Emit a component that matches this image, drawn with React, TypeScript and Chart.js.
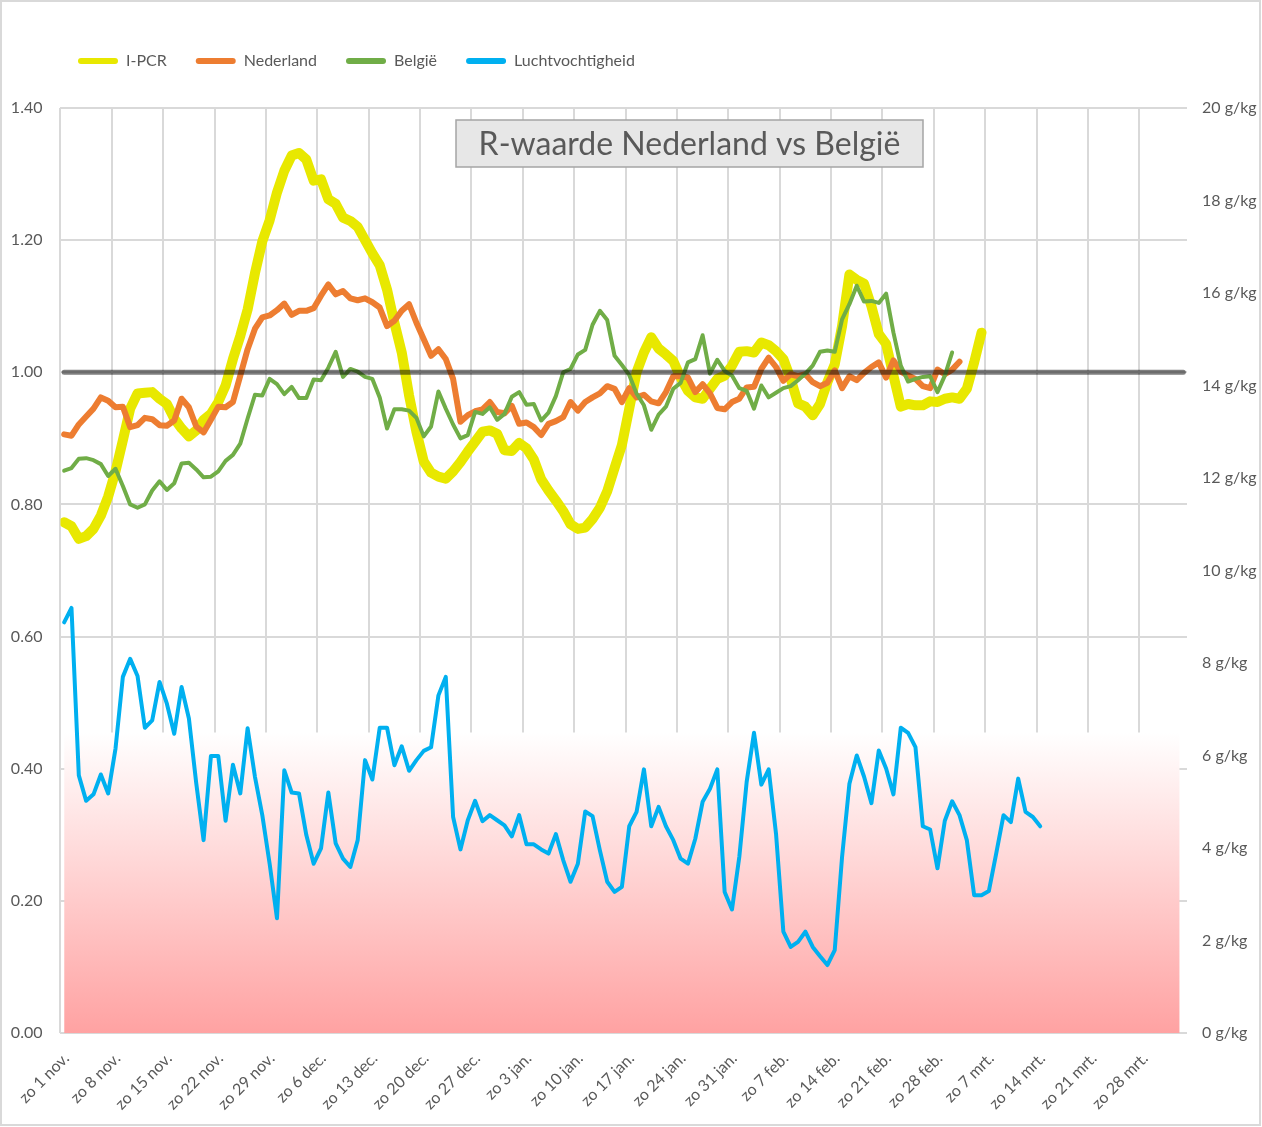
import { useEffect, useRef } from "react";
import { Chart, registerables } from "chart.js";

Chart.register(...registerables);

// ---------- data ----------
const weekLabels = [
  "zo 1 nov.", "zo 8 nov.", "zo 15 nov.", "zo 22 nov.", "zo 29 nov.", "zo 6 dec.",
  "zo 13 dec.", "zo 20 dec.", "zo 27 dec.", "zo 3 jan.", "zo 10 jan.", "zo 17 jan.",
  "zo 24 jan.", "zo 31 jan.", "zo 7 feb.", "zo 14 feb.", "zo 21 feb.", "zo 28 feb.",
  "zo 7 mrt.", "zo 14 mrt.", "zo 21 mrt.", "zo 28 mrt.",
];

// days on the date axis (1 nov. .. 2 apr.)
const axisDays = 153.5;

// daily values, starting 1 nov.
const iPcr = [
  0.773, 0.767, 0.748, 0.752, 0.763, 0.783, 0.812, 0.850, 0.897, 0.945,
  0.968, 0.969, 0.970, 0.960, 0.952, 0.930, 0.915, 0.903, 0.912, 0.928,
  0.937, 0.955, 0.980, 1.020, 1.055, 1.095, 1.150, 1.198, 1.230, 1.272,
  1.305, 1.328, 1.332, 1.322, 1.290, 1.292, 1.262, 1.255, 1.234, 1.229,
  1.220, 1.200, 1.180, 1.162, 1.125, 1.075, 1.030, 0.965, 0.910, 0.865,
  0.848, 0.842, 0.839, 0.850, 0.864, 0.880, 0.895, 0.910, 0.912, 0.907,
  0.882, 0.881, 0.893, 0.885, 0.868, 0.838, 0.821, 0.806, 0.790, 0.770,
  0.763, 0.765, 0.778, 0.795, 0.820, 0.855, 0.890, 0.945, 1.000, 1.030,
  1.053, 1.036, 1.027, 1.017, 0.992, 0.972, 0.962, 0.960, 0.975, 0.990,
  0.995, 1.010, 1.031, 1.032, 1.030, 1.045, 1.041, 1.032, 1.020, 0.990,
  0.953, 0.948, 0.935, 0.952, 0.985, 1.012, 1.070, 1.148, 1.140, 1.134,
  1.100, 1.058, 1.043, 0.995, 0.948, 0.952, 0.950, 0.950, 0.956, 0.955,
  0.960, 0.962, 0.960, 0.975, 1.015, 1.060,
];

const nederland = [
  0.906, 0.904, 0.921, 0.933, 0.945, 0.962, 0.957, 0.947, 0.948, 0.917,
  0.920, 0.931, 0.929, 0.920, 0.919, 0.927, 0.960, 0.947, 0.918, 0.909,
  0.928, 0.948, 0.947, 0.955, 0.995, 1.035, 1.066, 1.083, 1.086, 1.094,
  1.104, 1.087, 1.093, 1.093, 1.097, 1.116, 1.133, 1.118, 1.123, 1.112,
  1.109, 1.112, 1.106, 1.098, 1.070, 1.078, 1.093, 1.103, 1.075, 1.050,
  1.025, 1.035, 1.020, 0.990, 0.925, 0.935, 0.941, 0.944, 0.955, 0.940,
  0.938, 0.949, 0.922, 0.924, 0.917, 0.905, 0.922, 0.926, 0.932, 0.955,
  0.942, 0.955, 0.962, 0.968, 0.979, 0.975, 0.955, 0.976, 0.962, 0.966,
  0.956, 0.953, 0.970, 0.994, 0.994, 0.992, 0.970, 0.982, 0.968, 0.946,
  0.944, 0.955, 0.960, 0.977, 0.978, 1.005, 1.022, 1.008, 0.987, 0.997,
  0.994, 0.997, 0.985, 0.979, 0.984, 1.003, 0.976, 0.994, 0.988, 0.999,
  1.008, 1.015, 0.992, 1.018, 1.001, 0.995, 0.990, 0.979, 0.976, 1.004,
  0.997, 1.004, 1.016,
];

const belgie = [
  0.851, 0.855, 0.869, 0.870, 0.867, 0.861, 0.843, 0.854, 0.828, 0.800,
  0.795, 0.800, 0.821, 0.835, 0.822, 0.832, 0.862, 0.863, 0.853, 0.841,
  0.842, 0.850, 0.866, 0.875, 0.892, 0.930, 0.966, 0.965, 0.990, 0.982,
  0.967, 0.978, 0.961, 0.961, 0.989, 0.988, 1.007, 1.031, 0.993, 1.005,
  1.001, 0.993, 0.990, 0.962, 0.915, 0.944, 0.944, 0.942, 0.931, 0.903,
  0.918, 0.971, 0.945, 0.921, 0.900, 0.905, 0.940, 0.937, 0.947, 0.928,
  0.937, 0.963, 0.970, 0.951, 0.952, 0.927, 0.939, 0.964, 1.000, 1.005,
  1.027, 1.034, 1.072, 1.093, 1.079, 1.025, 1.011, 0.996, 0.968, 0.950,
  0.913, 0.936, 0.948, 0.975, 0.984, 1.015, 1.020, 1.056, 0.998, 1.019,
  1.002, 0.995, 0.976, 0.972, 0.945, 0.980, 0.962, 0.969, 0.976, 0.979,
  0.988, 0.998, 1.010, 1.031, 1.033, 1.031, 1.080, 1.103, 1.131, 1.107,
  1.108, 1.105, 1.119, 1.060, 1.010, 0.986, 0.990, 0.993, 0.994, 0.970,
  0.995, 1.030,
];

// g/kg
const luchtvochtigheid = [
  8.88, 9.19, 5.57, 5.02, 5.16, 5.59, 5.18, 6.15, 7.70, 8.09,
  7.72, 6.60, 6.76, 7.59, 7.12, 6.47, 7.48, 6.80, 5.40, 4.17,
  5.99, 5.99, 4.59, 5.80, 5.18, 6.59, 5.54, 4.71, 3.66, 2.48,
  5.68, 5.20, 5.18, 4.28, 3.66, 3.99, 5.20, 4.10, 3.77, 3.59,
  4.17, 5.90, 5.48, 6.60, 6.60, 5.79, 6.20, 5.67, 5.90, 6.10,
  6.18, 7.30, 7.70, 4.67, 3.97, 4.60, 5.02, 4.58, 4.71, 4.60,
  4.49, 4.25, 4.71, 4.08, 4.08, 3.97, 3.88, 4.30, 3.74, 3.27,
  3.66, 4.79, 4.69, 3.95, 3.27, 3.05, 3.16, 4.47, 4.78, 5.70,
  4.47, 4.89, 4.47, 4.17, 3.77, 3.66, 4.20, 5.00, 5.28, 5.70,
  3.05, 2.67, 3.81, 5.43, 6.49, 5.37, 5.70, 4.31, 2.19, 1.86,
  1.97, 2.19, 1.86, 1.66, 1.47, 1.79, 3.81, 5.39, 6.00, 5.54,
  4.97, 6.11, 5.72, 5.16, 6.60, 6.49, 6.18, 4.47, 4.40, 3.56,
  4.59, 5.01, 4.71, 4.17, 2.98, 2.98, 3.07, 3.88, 4.71, 4.56,
  5.50, 4.78, 4.67, 4.47,
];

const rReference = 1.0;
const humidityZoneTop = 6.5; // g/kg
const chartTitle = "R-waarde Nederland vs België";

const legendEntries = [
  { text: "I-PCR", color: "#e8e800" },
  { text: "Nederland", color: "#ed7d31" },
  { text: "België", color: "#70ad47" },
  { text: "Luchtvochtigheid", color: "#00b0f0" },
];

// ---------- helpers ----------
const toPoints = (arr: number[]) => arr.map((y, i) => ({ x: i + 0.5, y }));
const TEXT = "#595959";
const GRID = "#d9d9d9";

const legendPlacement = {
  id: "legendPlacement",
  beforeInit(chart: any) {
    const lg = chart.legend;
    if (!lg) return;
    const fit = lg.fit.bind(lg);
    lg.fit = () => {
      fit();
      lg.height = 108;
    };
  },
  afterLayout(chart: any) {
    const lg = chart.legend;
    if (!lg) return;
    lg.left = 49;
    lg.top = 24;
  },
};

const titleBox = {
  id: "titleBox",
  afterDatasetsDraw(chart: any) {
    const { ctx } = chart;
    ctx.save();
    const left = 456, top = 120, w = 467, h = 47;
    ctx.fillStyle = "#e7e7e7";
    ctx.fillRect(left, top, w, h);
    ctx.strokeStyle = "#a5a5a5";
    ctx.lineWidth = 1.5;
    ctx.strokeRect(left, top, w, h);
    ctx.fillStyle = TEXT;
    ctx.font = "32px Lato";
    ctx.textAlign = "center";
    ctx.textBaseline = "middle";
    ctx.fillText(chartTitle, left + w / 2, top + h / 2 + 1);
    ctx.restore();
  },
};

const outerBorder = {
  id: "outerBorder",
  afterDraw(chart: any) {
    const { ctx, width, height } = chart;
    ctx.save();
    ctx.strokeStyle = GRID;
    ctx.lineWidth = 2;
    ctx.strokeRect(1, 1, width - 3, height - 3);
    ctx.restore();
  },
};

export default function App() {
  const ref = useRef<HTMLCanvasElement | null>(null);

  useEffect(() => {
    if (!ref.current) return;
    Chart.defaults.font.family = "Lato";
    Chart.defaults.font.size = 16;
    Chart.defaults.color = TEXT;

    const bandGradient = (ctx: any) => {
      const chart = ctx.chart;
      const { chartArea, scales } = chart;
      if (!chartArea) return "rgba(255,200,200,1)";
      const top = scales.y1.getPixelForValue(humidityZoneTop);
      const bottom = scales.y1.getPixelForValue(0);
      const g = chart.ctx.createLinearGradient(0, top, 0, bottom);
      g.addColorStop(0, "rgb(255,255,255)");
      g.addColorStop(1, "rgb(255,162,162)");
      return g;
    };

    const lineCommon = {
      pointRadius: 0,
      pointHoverRadius: 0,
      tension: 0,
      borderJoinStyle: "round" as const,
      borderCapStyle: "round" as const,
      fill: false,
    };

    const chart = new Chart(ref.current, {
      type: "line",
      data: {
        datasets: [
          {
            ...lineCommon,
            label: "R = 1",
            data: [
              { x: 0.5, y: rReference },
              { x: axisDays - 0.5, y: rReference },
            ],
            borderColor: "rgba(0,0,0,0.5)",
            borderWidth: 5,
            yAxisID: "y",
            order: 0,
          },
          {
            ...lineCommon,
            label: "Luchtvochtigheid",
            data: toPoints(luchtvochtigheid),
            borderColor: "#00b0f0",
            borderWidth: 4,
            yAxisID: "y1",
            order: 1,
          },
          {
            ...lineCommon,
            label: "België",
            data: toPoints(belgie),
            borderColor: "#70ad47",
            borderWidth: 4,
            yAxisID: "y",
            order: 2,
          },
          {
            ...lineCommon,
            label: "Nederland",
            data: toPoints(nederland),
            borderColor: "#ed7d31",
            borderWidth: 6,
            yAxisID: "y",
            order: 3,
          },
          {
            ...lineCommon,
            label: "I-PCR",
            data: toPoints(iPcr),
            borderColor: "#e8e800",
            borderWidth: 10,
            yAxisID: "y",
            order: 4,
          },
          {
            label: "zone",
            data: [
              { x: 0.5, y: humidityZoneTop },
              { x: axisDays - 1, y: humidityZoneTop },
            ],
            pointRadius: 0,
            borderWidth: 0,
            borderColor: "rgba(0,0,0,0)",
            backgroundColor: bandGradient,
            fill: "origin",
            yAxisID: "y1",
            order: 5,
          },
        ] as any,
      },
      options: {
        responsive: false,
        maintainAspectRatio: false,
        animation: false,
        events: [],
        layout: { padding: 0 },
        plugins: {
          tooltip: { enabled: false },
          title: { display: false },
          legend: {
            display: true,
            position: "top",
            align: "start",
            labels: {
              boxWidth: 40,
              boxHeight: 6,
              padding: 29,
              color: TEXT,
              font: { size: 16, family: "Lato" },
              generateLabels: () =>
                legendEntries.map((e) => ({
                  text: e.text,
                  fillStyle: e.color,
                  strokeStyle: e.color,
                  lineWidth: 0,
                  hidden: false,
                  borderRadius: 3,
                  fontColor: TEXT,
                })) as any,
            },
          },
        },
        scales: {
          x: {
            type: "linear",
            min: 0,
            max: axisDays,
            afterBuildTicks: (scale: any) => {
              scale.ticks = weekLabels.map((_, i) => ({ value: i * 7 }));
            },
            afterFit: (scale: any) => {
              scale.height = 94;
            },
            ticks: {
              autoSkip: false,
              maxRotation: 45,
              minRotation: 45,
              padding: 16,
              labelOffset: 6,
              color: TEXT,
              font: { size: 16 },
              callback: (v: any) => weekLabels[Math.round(Number(v) / 7)] ?? "",
            },
            grid: { color: GRID, lineWidth: 2, drawTicks: false },
            border: { display: false },
          },
          y: {
            position: "left",
            min: 0,
            max: 1.4,
            afterFit: (scale: any) => {
              scale.width = 58;
            },
            ticks: {
              stepSize: 0.2,
              padding: 18,
              color: TEXT,
              font: { size: 16 },
              callback: (v: any) => Number(v).toFixed(2),
            },
            grid: { color: GRID, lineWidth: 2, drawTicks: false },
            border: { display: false },
          },
          y1: {
            position: "right",
            min: 0,
            max: 20,
            afterFit: (scale: any) => {
              scale.width = 75;
            },
            ticks: {
              stepSize: 2,
              padding: 15,
              color: TEXT,
              font: { size: 16 },
              callback: (v: any) => `${v} g/kg`,
            },
            grid: { display: false, drawTicks: false },
            border: { display: false },
          },
        },
      } as any,
      plugins: [legendPlacement, titleBox, outerBorder],
    });

    return () => chart.destroy();
  }, []);

  return (
    <div style={{ position: "absolute", left: 0, top: 0, width: 1262, height: 1127, background: "#fff" }}>
      <canvas ref={ref} width={1262} height={1127} style={{ display: "block" }} />
    </div>
  );
}
